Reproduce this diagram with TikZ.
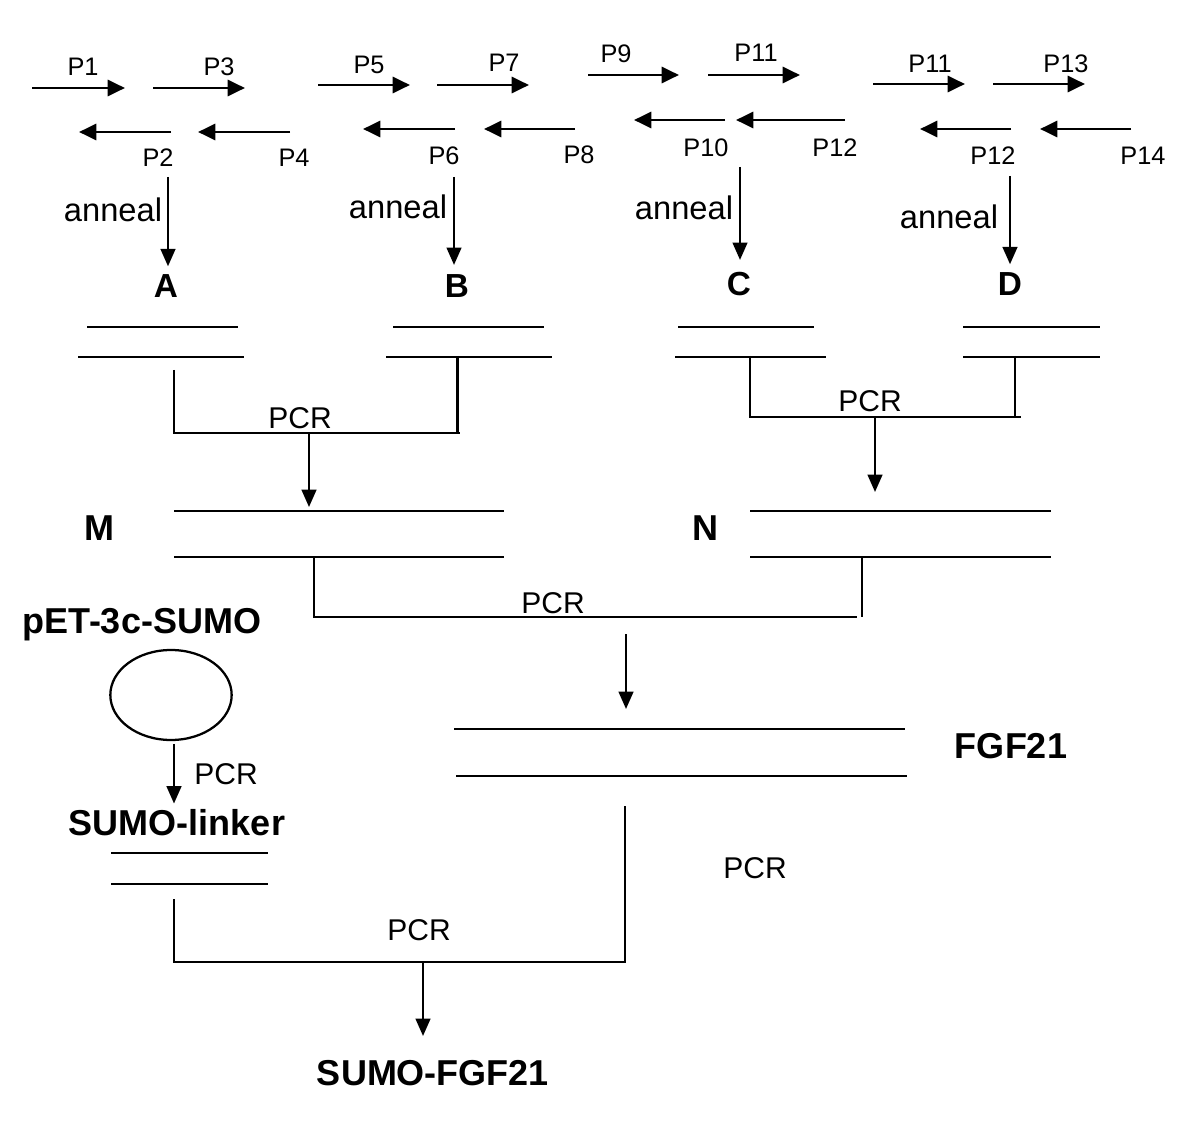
\documentclass[tikz,border=0pt]{standalone}
\usepackage{fontspec}
\setmainfont{Liberation Sans}
\usetikzlibrary{arrows.meta,shapes.geometric}

\begin{document}
\begin{tikzpicture}[x=0.75pt,y=-0.75pt,
	primer/.style={line width=2.2pt,-{Triangle[length=13pt,width=12pt]}},
	flow/.style={line width=1.7pt,-{Triangle[length=13pt,width=11pt]}},
	strand/.style={line width=1.7pt},
	plab/.style={font=\fontsize{19}{21}\selectfont,inner sep=0pt},
	pcr/.style={font=\fontsize{22.5}{24}\selectfont,inner sep=0pt},
	anl/.style={font=\fontsize{24.5}{26}\selectfont,inner sep=0pt},
	frag/.style={font=\bfseries\fontsize{25}{27}\selectfont,inner sep=0pt},
	prod/.style={font=\bfseries\fontsize{27}{29}\selectfont,inner sep=0pt}]
	\useasboundingbox (0,0) rectangle (1200,1123);

	\draw[primer] (32,88) -- (125,88);
	\draw[primer] (153,88) -- (245,88);
	\draw[primer] (318,85) -- (410,85);
	\draw[primer] (437,85) -- (529,85);
	\draw[primer] (588,75) -- (679,75);
	\draw[primer] (708,75) -- (800,75);
	\draw[primer] (873,84) -- (965,84);
	\draw[primer] (993,84) -- (1085,84);
	\draw[primer] (171,132) -- (79,132);
	\draw[primer] (290,132) -- (198,132);
	\draw[primer] (455,129) -- (363,129);
	\draw[primer] (575,129) -- (484,129);
	\draw[primer] (725,120) -- (634,120);
	\draw[primer] (845,120) -- (736,120);
	\draw[primer] (1011,129) -- (920,129);
	\draw[primer] (1131,129) -- (1040,129);

	\node[plab] (P1) at (83,67) {P1};
	\node[plab] (P3) at (219,67) {P3};
	\node[plab] (P5) at (369,65) {P5};
	\node[plab] (P7) at (504,63) {P7};
	\node[plab] (P9) at (616,54) {P9};
	\node[plab] (P11a) at (756,53) {P11};
	\node[plab] (P11b) at (930,64) {P11};
	\node[plab] (P13) at (1066,64) {P13};
	\node[plab] (P2) at (158,158) {P2};
	\node[plab] (P4) at (294,158) {P4};
	\node[plab] (P6) at (444,156) {P6};
	\node[plab] (P8) at (579,155) {P8};
	\node[plab] (P10) at (706,148) {P10};
	\node[plab] (P12a) at (835,148) {P12};
	\node[plab] (P12b) at (993,156) {P12};
	\node[plab] (P14) at (1143,156) {P14};

	\node[anl] (annealA) at (113,210) {anneal};
	\node[anl] (annealB) at (398,207) {anneal};
	\node[anl] (annealC) at (684,208) {anneal};
	\node[anl] (annealD) at (949,217) {anneal};

	\node[frag] (A) at (166,286) {A};
	\node[frag] (B) at (457,286) {B};
	\node[frag] (C) at (739,284) {C};
	\node[frag] (D) at (1010,284) {D};

	\coordinate (a0) at (168,177);
	\coordinate (b0) at (454,177);
	\coordinate (c0) at (740,167);
	\coordinate (d0) at (1010,176);
	\draw[flow] (a0) -- (a0 |- A.north) [shorten >=6pt];
	\draw[flow] (b0) -- (b0 |- B.north) [shorten >=7pt];
	\draw[flow] (c0) -- (c0 |- C.north) [shorten >=9pt];
	\draw[flow] (d0) -- (d0 |- D.north) [shorten >=6pt];

	\draw[strand] (87,327) -- (238,327);
	\draw[strand] (78,357) -- (244,357);
	\draw[strand] (393,327) -- (544,327);
	\draw[strand] (386,357) -- (552,357);
	\draw[strand] (678,327) -- (814,327);
	\draw[strand] (675,357) -- (826,357);
	\draw[strand] (963,327) -- (1100,327);
	\draw[strand] (963,357) -- (1100,357);

	\draw[strand] (174,370) -- (174,433) -- (460,433);
	\draw[strand] (457.5,356) -- (457.5,433);
	\node[pcr] (pcrAB) at (300,418) {PCR};
	\draw[strand] (750,356) -- (750,417) -- (1021,417);
	\draw[strand] (1015,356) -- (1015,417);
	\node[pcr] (pcrCD) at (870,401) {PCR};

	\coordinate (ab) at (309,433);
	\coordinate (m0) at (309,507);
	\draw[flow] (ab) -- (m0);
	\coordinate (cd) at (875,417);
	\coordinate (n0) at (875,492);
	\draw[flow] (cd) -- (n0);

	\node[prod] (M) at (99,528) {M};
	\draw[strand] (174,511) -- (504,511);
	\draw[strand] (174,557) -- (504,557);
	\node[prod] (N) at (705,528) {N};
	\draw[strand] (750,511) -- (1051,511);
	\draw[strand] (750,557) -- (1051,557);

	\draw[strand] (314,557) -- (314,617) -- (857,617);
	\draw[strand] (862,557) -- (862,617);
	\node[pcr] (pcrMN) at (553,603) {PCR};

	\coordinate (mn) at (626,634);
	\coordinate (f0) at (626,709);
	\draw[flow] (mn) -- (f0);

	\draw[strand] (454,729) -- (905,729);
	\draw[strand] (456,776) -- (907,776);
	\node[prod] (FGF21) at (1011,746) {FGF21};
	\node[pcr] (pcrFree) at (755,868) {PCR};

	\node[prod,anchor=base] (pET) at (142,633) {pET-3c-SUMO};
	\node[draw,ellipse,line width=1.7pt,minimum width=91pt,minimum height=67.5pt,inner sep=0pt] (plasmid) at (171,695) {};
	\node[prod] (linker) at (177,823) {SUMO-linker};
	\draw[flow] (plasmid.south -| 174,0) -- (linker.north -| 174,0) [shorten <=2pt,shorten >=4.5pt];
	\node[pcr] (pcrLinker) at (226,774) {PCR};

	\draw[strand] (111,853) -- (268,853);
	\draw[strand] (111,884) -- (268,884);

	\draw[strand] (174,899) -- (174,962) -- (625,962) -- (625,806);
	\node[pcr] (pcrFinal) at (419,930) {PCR};
	\coordinate (fin) at (423,962);
	\node[prod] (SUMOFGF21) at (433,1073) {SUMO-FGF21};
	\draw[flow] (fin) -- (fin |- SUMOFGF21.north) [shorten >=18pt];
\end{tikzpicture}
\end{document}
